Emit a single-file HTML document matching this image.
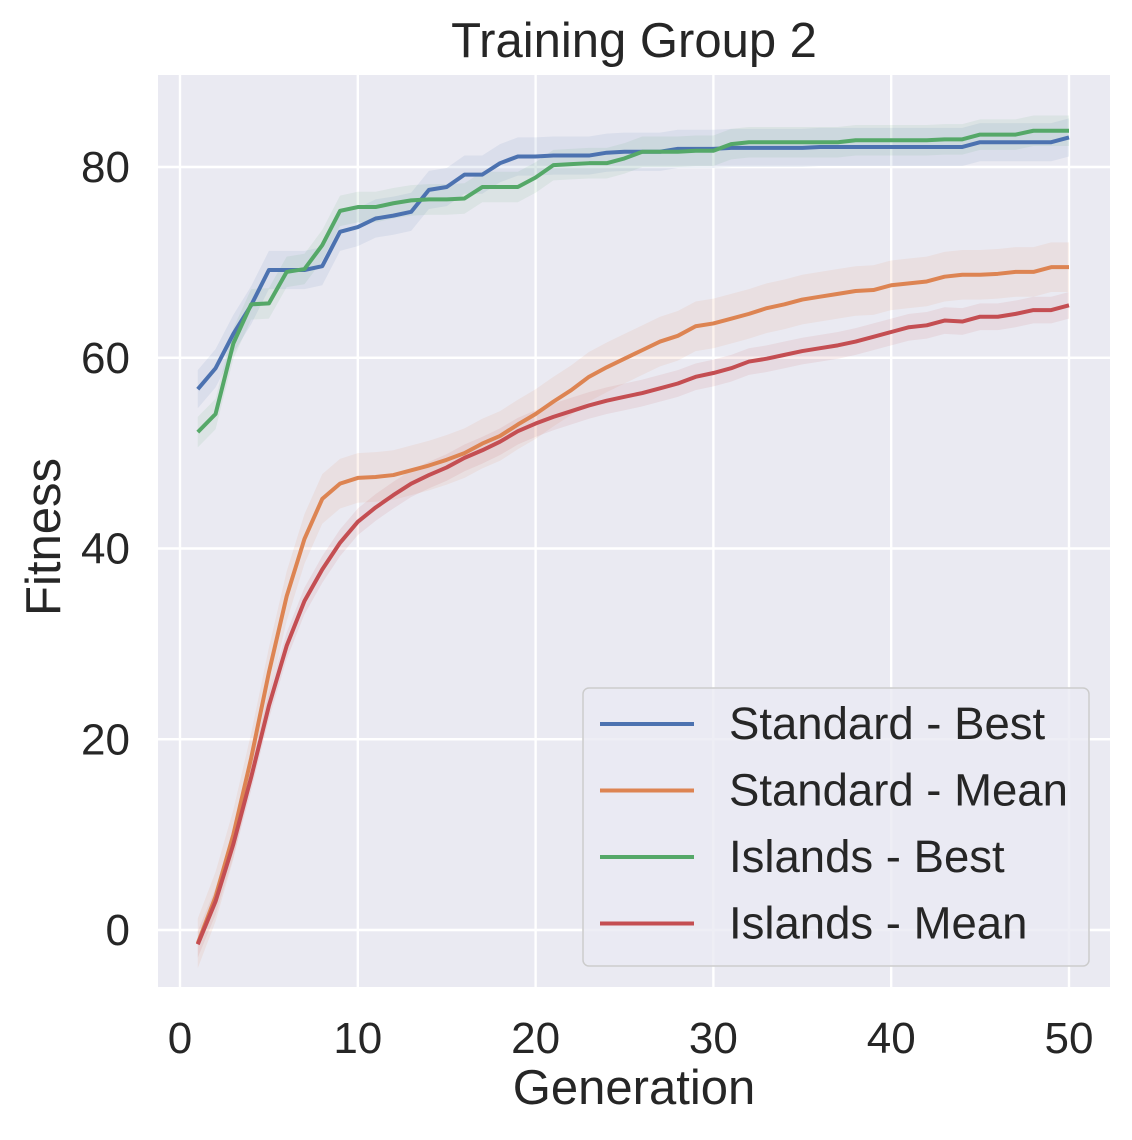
<!DOCTYPE html>
<html><head><meta charset="utf-8"><style>
body{margin:0;background:#fff;}
svg text{font-family:"Liberation Sans","DejaVu Sans",sans-serif;fill:#262626;}
</style></head><body>
<svg id="chart" width="1132" height="1135" xmlns="http://www.w3.org/2000/svg">
<rect x="158" y="75" width="952" height="912" fill="#eaeaf2"/>
<g id="grid"></g>
<g id="bands"></g>
<g id="lines"></g>
<g id="ticks"></g>
<text x="634" y="57" font-size="49" text-anchor="middle">Training Group 2</text>
<text x="634" y="1104" font-size="49" text-anchor="middle">Generation</text>
<text x="60" y="537" font-size="49" text-anchor="middle" transform="rotate(-90 60 537)">Fitness</text>
<g>
<rect x="583" y="688" width="506" height="278" rx="6" fill="#eaeaf2" fill-opacity="0.8" stroke="#cccccc" stroke-width="1.5"/>
<g id="legend-items"></g>
</g>
</svg>
<script>
const generations=[];for(let i=1;i<=50;i++)generations.push(i);
const xTicks=[0,10,20,30,40,50];
const yTicks=[0,20,40,60,80];
const seriesNames=["Standard - Best","Standard - Mean","Islands - Best","Islands - Mean"];
const seriesColors=["#4c72b0","#dd8452","#55a868","#c44e52"];
const standardBest=[56.7,58.9,62.5,65.5,69.2,69.2,69.2,69.6,73.2,73.7,74.6,74.9,75.3,77.6,77.9,79.2,79.2,80.4,81.1,81.1,81.2,81.2,81.2,81.5,81.6,81.6,81.6,81.9,81.9,81.9,82.0,82.0,82.0,82.0,82.0,82.1,82.1,82.1,82.1,82.1,82.1,82.1,82.1,82.1,82.6,82.6,82.6,82.6,82.6,83.1];
const standardMean=[-1.4,3.5,10,18,27,35,41,45.2,46.8,47.4,47.5,47.7,48.2,48.7,49.3,50,51,51.8,53,54.1,55.4,56.6,58,59,59.9,60.8,61.7,62.3,63.3,63.6,64.1,64.6,65.2,65.6,66.1,66.4,66.7,67,67.1,67.6,67.8,68,68.5,68.7,68.7,68.8,69,69,69.5,69.5];
const islandsBest=[52.2,54.1,61.5,65.6,65.7,69.0,69.3,71.8,75.4,75.8,75.8,76.2,76.5,76.6,76.6,76.7,77.9,77.9,77.9,78.9,80.2,80.3,80.4,80.4,80.9,81.6,81.6,81.6,81.7,81.7,82.4,82.6,82.6,82.6,82.6,82.6,82.6,82.8,82.8,82.8,82.8,82.8,82.9,82.9,83.4,83.4,83.4,83.8,83.8,83.8];
const islandsMean=[-1.5,3,9,16,23.5,29.8,34.5,37.8,40.6,42.8,44.3,45.6,46.8,47.7,48.5,49.5,50.3,51.2,52.3,53.1,53.8,54.4,55,55.5,55.9,56.3,56.8,57.3,58,58.4,58.9,59.6,59.9,60.3,60.7,61,61.3,61.7,62.2,62.7,63.2,63.4,63.9,63.8,64.3,64.3,64.6,65,65,65.5];
const bandHalfWidth=[2.0,2.6,1.6,1.4];
const series=[standardBest,standardMean,islandsBest,islandsMean];

const X=v=>180+(v-0)*(1069-180)/50;
const Y=v=>930-v*(930-167)/80;
const NS="http://www.w3.org/2000/svg";
function mk(tag,attrs,parent){const e=document.createElementNS(NS,tag);for(const k in attrs)e.setAttribute(k,attrs[k]);document.getElementById(parent).appendChild(e);return e;}

xTicks.forEach(t=>{
  const l=mk('line',{x1:X(t),x2:X(t),y1:75,y2:987,stroke:'#fff','stroke-width':2.4},'grid');
  
  
  const tx=mk('text',{x:X(t),y:1053,'font-size':44,'text-anchor':'middle'},'ticks');
  tx.textContent=t;
  
  
});
yTicks.forEach(t=>{
  const l=mk('line',{x1:158,x2:1110,y1:Y(t),y2:Y(t),stroke:'#fff','stroke-width':2.4},'grid');
  
  
  const tx=mk('text',{x:130,y:Y(t)+15,'font-size':44,'text-anchor':'end'},'ticks');
  tx.textContent=t;
  
  
});
series.forEach((s,i)=>{
  const up=s.map((v,j)=>X(generations[j])+','+Y(v+bandHalfWidth[i]));
  const dn=s.map((v,j)=>X(generations[j])+','+Y(v-bandHalfWidth[i])).reverse();
  const b=mk('polygon',{points:up.concat(dn).join(' '),fill:seriesColors[i],'fill-opacity':0.1},'bands');
  
  
  const p=mk('polyline',{points:s.map((v,j)=>X(generations[j])+','+Y(v)).join(' '),fill:'none',stroke:seriesColors[i],'stroke-width':4,'stroke-linejoin':'round'},'lines');
  
  
  const ly=724+i*66.5;
  const ll=mk('line',{x1:600,x2:694,y1:ly,y2:ly,stroke:seriesColors[i],'stroke-width':4},'legend-items');
  
  
  const lt=mk('text',{x:729,y:ly+15,'font-size':45.5},'legend-items');
  lt.textContent=seriesNames[i];
  
  
});
</script>
</body></html>
